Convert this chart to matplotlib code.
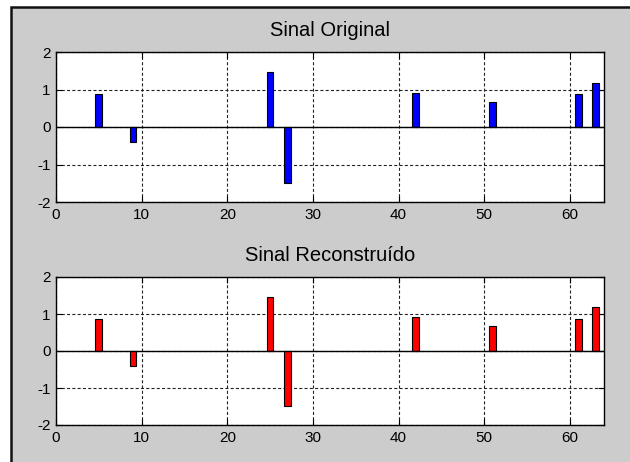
import matplotlib
matplotlib.use("Agg")
import matplotlib.pyplot as plt
from matplotlib.patches import Rectangle

# sample positions and amplitudes of the sparse signal
positions = [5, 9, 25, 27, 42, 51, 61, 63]
original = [0.87, -0.40, 1.46, -1.49, 0.91, 0.67, 0.87, 1.18]
reconstructed = [0.87, -0.40, 1.46, -1.49, 0.91, 0.67, 0.87, 1.18]

titles = ["Sinal Original", "Sinal Reconstruído"]
colors = ["#0000FF", "#FF0000"]
x_ticks = [0, 10, 20, 30, 40, 50, 60]
y_ticks = [-2, -1, 0, 1, 2]

plt.rcParams["font.family"] = ["Liberation Sans", "DejaVu Sans"]
plt.rcParams["lines.scale_dashes"] = False
plt.rcParams["axes.unicode_minus"] = False

W, H = 630, 462
fig = plt.figure(figsize=(W / 100, H / 100), dpi=100, facecolor="white")

# gray window panel with dark border on top and left
fig.patches.append(Rectangle((11 / W, -0.1), 1.2, 1 - 7 / H + 0.1,
                             transform=fig.transFigure, facecolor="#CCCCCC",
                             edgecolor="#111111", linewidth=1.8, zorder=-10))

ax_boxes = [(56, 52, 604, 202), (56, 277, 604, 425)]

for box, title, values, color in zip(ax_boxes, titles, [original, reconstructed], colors):
    x0, y0, x1, y1 = box
    ax = fig.add_axes([x0 / W, 1 - y1 / H, (x1 - x0) / W, (y1 - y0) / H])
    ax.set_facecolor("white")
    ax.bar(positions, values, width=0.8, color=color, edgecolor="black",
           linewidth=0.8, zorder=3)
    ax.axhline(0, color="black", linewidth=1.0, zorder=4)
    ax.set_xlim(0, 64)
    ax.set_ylim(-2, 2)
    ax.set_xticks(x_ticks)
    ax.set_yticks(y_ticks)
    ax.grid(True, color="#222222", linestyle=(0, (2.2, 1.6)), linewidth=0.8, zorder=1)
    ax.tick_params(direction="in", length=4, width=0.8, labelsize=11,
                   pad=4, top=True, right=True, colors="black")
    for s in ax.spines.values():
        s.set_linewidth(1.0)
        s.set_color("black")
    ax.set_title(title, fontsize=14.5, pad=11.5)

fig.savefig("out.png", dpi=100, facecolor=fig.get_facecolor())
